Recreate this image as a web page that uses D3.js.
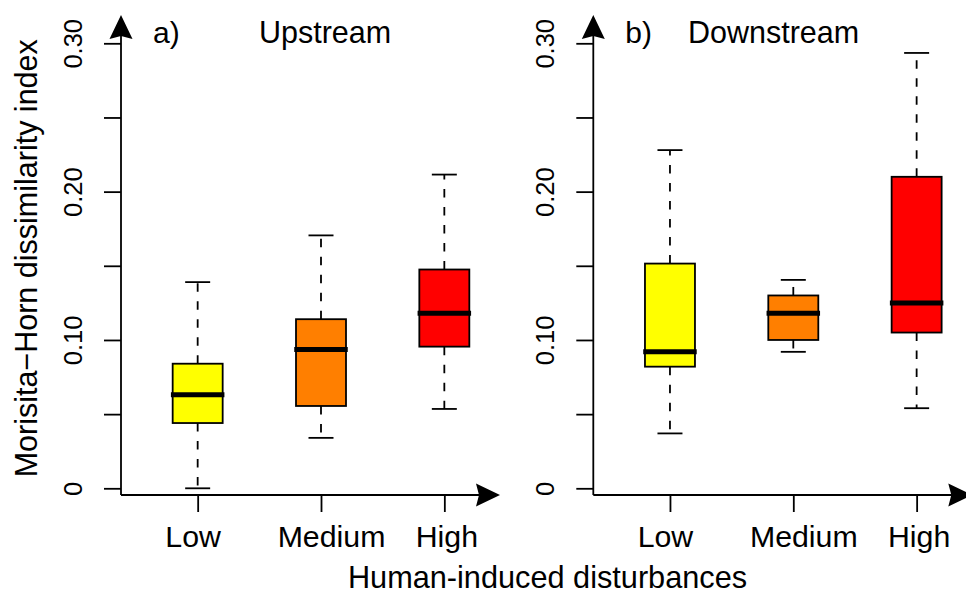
<!DOCTYPE html>
<html>
<head>
<meta charset="utf-8">
<script src="https://cdn.jsdelivr.net/npm/d3@7"></script>
<style>
  html, body { margin: 0; padding: 0; background: #fff; }
  svg { display: block; }
  text { font-family: "Liberation Sans", Arial, sans-serif; fill: #000; }
</style>
</head>
<body>
<svg id="chart" width="966" height="594"></svg>
<script>
// ---- Data ----
const categories = ["Low", "Medium", "High"];
const boxColors = ["#FFFF00", "#FF7F00", "#FF0000"];
const panelTags = ["a)", "b)"];
const panelTitles = ["Upstream", "Downstream"];
const yTickValues = [0, 0.05, 0.10, 0.15, 0.20, 0.25, 0.30];
const yTickLabels = ["0", "", "0.10", "", "0.20", "", "0.30"];
const yTitle = "Morisita\u2212Horn dissimilarity index";
const xTitle = "Human-induced disturbances";

// Upstream: [lower whisker, Q1, median, Q3, upper whisker] per category
const upstreamLow    = [0.000, 0.044, 0.063, 0.084, 0.139];
const upstreamMedium = [0.034, 0.0555, 0.0935, 0.114, 0.1705];
const upstreamHigh   = [0.0535, 0.0955, 0.118, 0.1475, 0.2115];
// Downstream
const downstreamLow    = [0.037, 0.082, 0.092, 0.1515, 0.228];
const downstreamMedium = [0.092, 0.100, 0.118, 0.130, 0.1405];
const downstreamHigh   = [0.054, 0.105, 0.125, 0.210, 0.2935];

const panelsData = [
  [upstreamLow, upstreamMedium, upstreamHigh],
  [downstreamLow, downstreamMedium, downstreamHigh]
];

// ---- Layout ----
const svg = d3.select("#chart");
const axisXs = [121, 593.3];
const axisBottomY = 495;
const axisTopY = 15;
const axisLen = 379;
const labelShift = { Low: -5, Medium: 10, High: 2 };

const y = d3.scaleLinear().domain([0, 0.30]).range([488.3, 43.3]);

// arrowhead path (pointing up), tip at origin
function arrowPath(len, half, notch) {
  return `M0,0 L${half},${len} L0,${len - notch} L${-half},${len} Z`;
}

panelsData.forEach((stats, p) => {
  const ax = axisXs[p];
  const g = svg.append("g");
  const x = d3.scalePoint().domain(categories)
    .range([ax + 15, ax + 385]).padding(0.5);

  // Y axis ticks + labels
  const yAxis = d3.axisLeft(y).tickValues(yTickValues)
    .tickSize(17).tickPadding(0)
    .tickFormat((d, i) => yTickLabels[i]);
  const yg = g.append("g").attr("transform", `translate(${ax},0)`).call(yAxis);
  yg.select(".domain").remove();
  yg.selectAll(".tick line").attr("stroke", "#000").attr("stroke-width", 1.8);
  yg.selectAll(".tick text")
    .attr("x", null).attr("dy", null)
    .attr("transform", `translate(-39.3,0) rotate(-90)`)
    .attr("text-anchor", "middle")
    .style("font-size", "25.5px")
    .style("font-family", '"Liberation Sans", Arial, sans-serif');

  // X axis ticks + labels
  const xAxis = d3.axisBottom(x).tickSize(17).tickPadding(0);
  const xg = g.append("g").attr("transform", `translate(0,${axisBottomY})`).call(xAxis);
  xg.select(".domain").remove();
  xg.selectAll(".tick line").attr("stroke", "#000").attr("stroke-width", 1.8);
  xg.selectAll(".tick text")
    .attr("y", 51.7).attr("dy", null)
    .attr("x", d => labelShift[d])
    .style("font-size", "30.3px")
    .style("font-family", '"Liberation Sans", Arial, sans-serif');

  // Axis lines with arrows
  g.append("line")
    .attr("x1", ax).attr("x2", ax)
    .attr("y1", axisBottomY).attr("y2", axisTopY + 18)
    .attr("stroke", "#000").attr("stroke-width", 1.8);
  g.append("path")
    .attr("d", arrowPath(24, 11.5, 3))
    .attr("transform", `translate(${ax},${axisTopY})`)
    .attr("fill", "#000");
  g.append("line")
    .attr("x1", ax).attr("x2", ax + axisLen - 18)
    .attr("y1", axisBottomY).attr("y2", axisBottomY)
    .attr("stroke", "#000").attr("stroke-width", 1.8);
  g.append("path")
    .attr("d", arrowPath(24, 11.5, 3))
    .attr("transform", `translate(${ax + axisLen},${axisBottomY}) rotate(90)`)
    .attr("fill", "#000");

  // Boxes
  const boxW = 50, medW = 53.5, capW = 25;
  stats.forEach((s, i) => {
    const cx = x(categories[i]);
    const [lo, q1, med, q3, hi] = s;
    const bg = g.append("g");
    // whiskers (dashed)
    bg.append("line")
      .attr("x1", cx).attr("x2", cx).attr("y1", y(q3)).attr("y2", y(hi))
      .attr("stroke", "#000").attr("stroke-width", 1.8)
      .attr("stroke-dasharray", "8.5,9.5");
    bg.append("line")
      .attr("x1", cx).attr("x2", cx).attr("y1", y(q1)).attr("y2", y(lo))
      .attr("stroke", "#000").attr("stroke-width", 1.8)
      .attr("stroke-dasharray", "8.5,9.5");
    // caps
    [lo, hi].forEach(v => {
      bg.append("line")
        .attr("x1", cx - capW / 2).attr("x2", cx + capW / 2)
        .attr("y1", y(v)).attr("y2", y(v))
        .attr("stroke", "#000").attr("stroke-width", 1.8);
    });
    // box
    bg.append("rect")
      .attr("x", cx - boxW / 2).attr("width", boxW)
      .attr("y", y(q3)).attr("height", y(q1) - y(q3))
      .attr("fill", boxColors[i])
      .attr("stroke", "#000").attr("stroke-width", 1.8);
    // median
    bg.append("line")
      .attr("x1", cx - medW / 2).attr("x2", cx + medW / 2)
      .attr("y1", y(med)).attr("y2", y(med))
      .attr("stroke", "#000").attr("stroke-width", 5);
  });

  // Panel labels
  g.append("text")
    .attr("x", ax + 32).attr("y", 43)
    .style("font-size", "30px")
    .text(panelTags[p]);
  g.append("text")
    .attr("x", [259, 688][p]).attr("y", 43)
    .style("font-size", "30.5px")
    .text(panelTitles[p]);
});

// Axis titles
svg.append("text")
  .attr("transform", "translate(36.7,258.3) rotate(-90)")
  .attr("text-anchor", "middle")
  .style("font-size", "30.5px")
  .text(yTitle);
svg.append("text")
  .attr("x", 547.5).attr("y", 588)
  .attr("text-anchor", "middle")
  .style("font-size", "30.7px")
  .text(xTitle);
</script>
</body>
</html>
